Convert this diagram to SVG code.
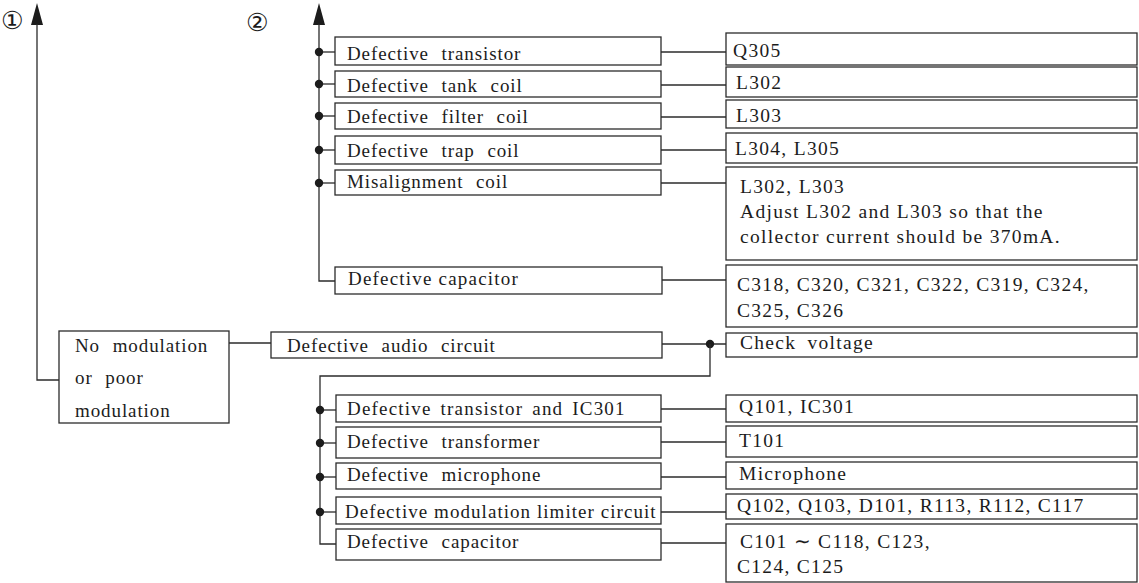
<svg xmlns="http://www.w3.org/2000/svg" width="1139" height="583" viewBox="0 0 1139 583">
  <style>
    .box { fill: #ffffff; stroke: #2b2b2b; stroke-width: 1.3; }
    .ln { fill: none; stroke: #2b2b2b; stroke-width: 1.3; }
    .dot { fill: #1c1c1c; }
    .head { fill: #1c1c1c; }
    .t { font-family: "Liberation Serif", "Times New Roman", serif; font-size: 19px; fill: #1c1c1c; letter-spacing: 0.9px; }
    .w { word-spacing: 7px; }
    .v { font-family: "Liberation Serif", "Times New Roman", serif; font-size: 19.5px; fill: #1c1c1c; letter-spacing: 1.3px; }
    .n { font-family: "DejaVu Sans", sans-serif; font-size: 25px; fill: #1c1c1c; }
  </style>

  <rect width="1139" height="583" fill="#ffffff"/>

  <!-- connectors -->
  <g id="connectors">
    <!-- branch 1 riser -->
    <polygon class="head" points="37,3 31,25 43,25"/>
    <polyline class="ln" points="37,24 37,380 59,380"/>
    <!-- branch 2 riser -->
    <polygon class="head" points="319,3 313,25 325,25"/>
    <polyline class="ln" points="319,24 319,281 335,281"/>
    <line class="ln" x1="319" y1="52" x2="335" y2="52"/>
    <line class="ln" x1="319" y1="84" x2="335" y2="84"/>
    <line class="ln" x1="319" y1="116" x2="335" y2="116"/>
    <line class="ln" x1="319" y1="150" x2="335" y2="150"/>
    <line class="ln" x1="319" y1="183" x2="335" y2="183"/>
    <circle class="dot" cx="319" cy="52" r="4.2"/>
    <circle class="dot" cx="319" cy="84" r="4.2"/>
    <circle class="dot" cx="319" cy="116" r="4.2"/>
    <circle class="dot" cx="319" cy="150" r="4.2"/>
    <circle class="dot" cx="319" cy="183" r="4.2"/>
    <!-- upper causes to parts -->
    <line class="ln" x1="661" y1="52" x2="726" y2="52"/>
    <line class="ln" x1="661" y1="85" x2="726" y2="85"/>
    <line class="ln" x1="661" y1="117" x2="726" y2="117"/>
    <line class="ln" x1="661" y1="150" x2="726" y2="150"/>
    <line class="ln" x1="661" y1="183" x2="726" y2="183"/>
    <line class="ln" x1="662" y1="280" x2="726" y2="280"/>
    <!-- symptom to audio circuit -->
    <line class="ln" x1="229" y1="343" x2="271" y2="343"/>
    <line class="ln" x1="662" y1="344" x2="726" y2="344"/>
    <circle class="dot" cx="710" cy="344" r="4.2"/>
    <polyline class="ln" points="710,344 710,376 320,376 320,544 336,544"/>
    <line class="ln" x1="320" y1="410" x2="336" y2="410"/>
    <line class="ln" x1="320" y1="443" x2="336" y2="443"/>
    <line class="ln" x1="320" y1="477" x2="336" y2="477"/>
    <line class="ln" x1="320" y1="512" x2="336" y2="512"/>
    <circle class="dot" cx="320" cy="410" r="4.2"/>
    <circle class="dot" cx="320" cy="443" r="4.2"/>
    <circle class="dot" cx="320" cy="477" r="4.2"/>
    <circle class="dot" cx="320" cy="512" r="4.2"/>
    <!-- lower causes to parts -->
    <line class="ln" x1="661" y1="409" x2="726" y2="409"/>
    <line class="ln" x1="661" y1="442" x2="726" y2="442"/>
    <line class="ln" x1="661" y1="477" x2="726" y2="477"/>
    <line class="ln" x1="661" y1="512" x2="726" y2="512"/>
    <line class="ln" x1="661" y1="543" x2="726" y2="543"/>
  </g>

  <!-- branch markers -->
  <g id="marker-1"><text class="n" x="1" y="29">①</text></g>
  <g id="marker-2"><text class="n" x="246" y="31">②</text></g>

  <!-- symptom -->
  <g id="symptom">
    <rect class="box" x="59" y="331" width="170" height="92"/>
    <text class="t w" x="75" y="352">No modulation</text>
    <text class="t w" x="75" y="384">or poor</text>
    <text class="t" x="75" y="417">modulation</text>
  </g>

  <!-- branch 2 causes -->
  <g id="cause-transistor">
    <rect class="box" x="335" y="37" width="326" height="28"/>
    <text class="t w" x="347" y="60">Defective transistor</text>
  </g>
  <g id="cause-tank-coil">
    <rect class="box" x="335" y="71" width="326" height="26"/>
    <text class="t w" x="347" y="92">Defective tank coil</text>
  </g>
  <g id="cause-filter-coil">
    <rect class="box" x="335" y="103" width="326" height="26"/>
    <text class="t w" x="347" y="123">Defective filter coil</text>
  </g>
  <g id="cause-trap-coil">
    <rect class="box" x="335" y="136" width="326" height="28"/>
    <text class="t w" x="347" y="157">Defective trap coil</text>
  </g>
  <g id="cause-misalignment">
    <rect class="box" x="335" y="170" width="326" height="25"/>
    <text class="t w" x="347" y="188">Misalignment coil</text>
  </g>
  <g id="cause-capacitor-rf">
    <rect class="box" x="335" y="267" width="327" height="27"/>
    <text class="t" x="348" y="285" style="letter-spacing:1.2px">Defective capacitor</text>
  </g>

  <!-- branch 2 parts -->
  <g id="part-q305">
    <rect class="box" x="726" y="33" width="411" height="32"/>
    <text class="v" x="733" y="57">Q305</text>
  </g>
  <g id="part-l302">
    <rect class="box" x="726" y="67" width="411" height="30"/>
    <text class="v" x="736" y="89">L302</text>
  </g>
  <g id="part-l303">
    <rect class="box" x="726" y="100" width="411" height="28"/>
    <text class="v" x="736" y="122">L303</text>
  </g>
  <g id="part-l304">
    <rect class="box" x="726" y="133" width="411" height="30"/>
    <text class="v" x="735" y="155">L304, L305</text>
  </g>
  <g id="part-align">
    <rect class="box" x="726" y="167" width="411" height="93"/>
    <text class="v" x="740" y="193">L302, L303</text>
    <text class="v" x="740" y="218">Adjust L302 and L303 so that the</text>
    <text class="v" x="740" y="243">collector current should be 370mA.</text>
  </g>
  <g id="part-caps-rf">
    <rect class="box" x="726" y="265" width="411" height="62"/>
    <text class="v" x="737" y="291">C318, C320, C321, C322, C319, C324,</text>
    <text class="v" x="737" y="317">C325, C326</text>
  </g>

  <!-- audio circuit -->
  <g id="cause-audio">
    <rect class="box" x="271" y="332" width="391" height="26"/>
    <text class="t w" x="287" y="352">Defective audio circuit</text>
  </g>
  <g id="check-voltage">
    <rect class="box" x="726" y="333" width="411" height="24"/>
    <text class="v" x="740" y="349" style="word-spacing:5px">Check voltage</text>
  </g>

  <!-- audio circuit causes -->
  <g id="cause-ic301">
    <rect class="box" x="336" y="395" width="325" height="27"/>
    <text class="t" x="347" y="415" style="letter-spacing:1.2px;word-spacing:3px">Defective  transistor and IC301</text>
  </g>
  <g id="cause-transformer">
    <rect class="box" x="336" y="427" width="325" height="31"/>
    <text class="t w" x="347" y="448">Defective transformer</text>
  </g>
  <g id="cause-microphone">
    <rect class="box" x="336" y="463" width="325" height="26"/>
    <text class="t w" x="347" y="481">Defective microphone</text>
  </g>
  <g id="cause-limiter">
    <rect class="box" x="336" y="497" width="325" height="27"/>
    <text class="t" x="345" y="518" style="letter-spacing:1.05px">Defective modulation limiter circuit</text>
  </g>
  <g id="cause-capacitor-af">
    <rect class="box" x="336" y="529" width="325" height="31"/>
    <text class="t w" x="347" y="548">Defective capacitor</text>
  </g>

  <!-- audio circuit parts -->
  <g id="part-q101">
    <rect class="box" x="726" y="395" width="411" height="27"/>
    <text class="v" x="739" y="413">Q101, IC301</text>
  </g>
  <g id="part-t101">
    <rect class="box" x="726" y="426" width="411" height="31"/>
    <text class="v" x="739" y="447">T101</text>
  </g>
  <g id="part-mic">
    <rect class="box" x="726" y="462" width="411" height="27"/>
    <text class="v" x="739" y="480">Microphone</text>
  </g>
  <g id="part-limiter">
    <rect class="box" x="726" y="494" width="411" height="25"/>
    <text class="v" x="737" y="512">Q102, Q103, D101, R113, R112, C117</text>
  </g>
  <g id="part-caps-af">
    <rect class="box" x="726" y="524" width="411" height="58"/>
    <text class="v" x="740" y="548">C101 ∼ C118, C123,</text>
    <text class="v" x="737" y="573">C124, C125</text>
  </g>
</svg>
